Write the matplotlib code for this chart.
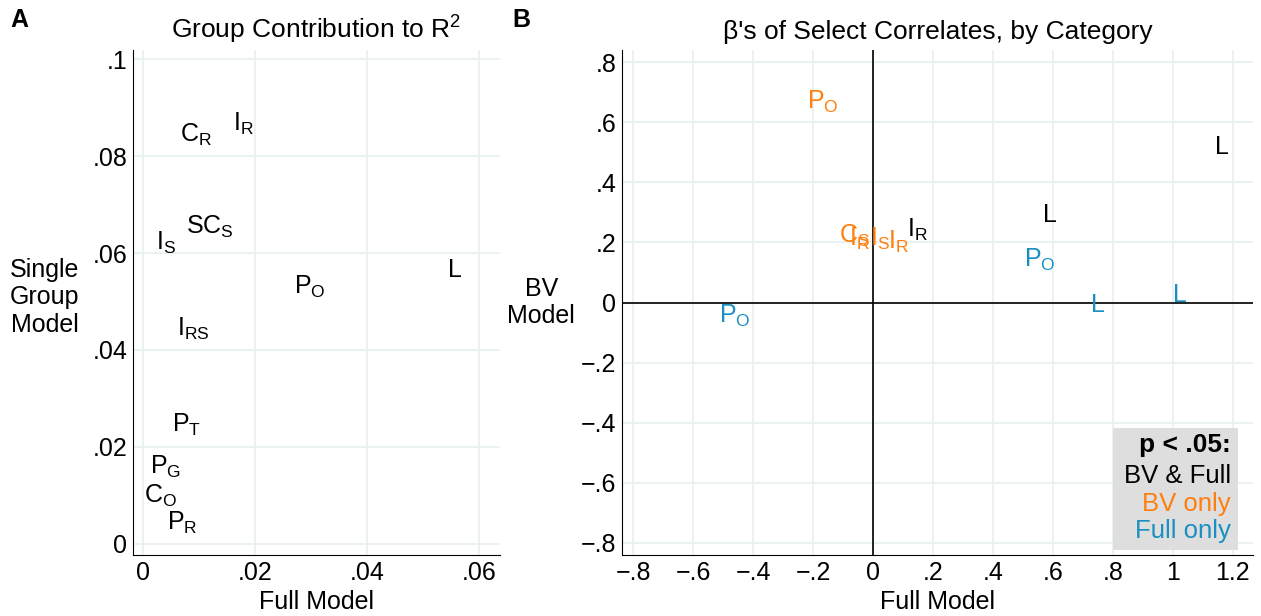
import numpy as np
import matplotlib.pyplot as plt

plt.rcParams['font.family'] = 'Liberation Sans'
plt.rcParams['mathtext.fontset'] = 'custom'
plt.rcParams['mathtext.rm'] = 'Liberation Sans'
plt.rcParams['mathtext.it'] = 'Liberation Sans'
plt.rcParams['font.size'] = 18

# Panel A: contribution to R^2
a_labels = ['C_R', 'I_R', 'SC_S', 'I_S', 'L', 'P_O', 'I_{RS}', 'P_T', 'P_G', 'C_O', 'P_R']
a_full = [0.0095, 0.0179, 0.0120, 0.0041, 0.0557, 0.0298, 0.0089, 0.0077, 0.0041, 0.0032, 0.0070]
a_single = [0.0843, 0.0866, 0.0654, 0.0620, 0.0565, 0.0530, 0.0443, 0.0245, 0.0159, 0.0099, 0.0043]

# Panel B: betas, colour by significance group
b_labels = ['P_O', 'C_S', 'I_R', 'I_S', 'I_R', 'L', 'L', 'I_R', 'P_O', 'L', 'L', 'P_O']
b_full = [-0.167, -0.060, -0.045, 0.025, 0.085, 1.163, 0.590, 0.147, 0.557, 0.750, 1.023, -0.460]
b_bv = [0.666, 0.222, 0.210, 0.210, 0.200, 0.517, 0.290, 0.240, 0.142, -0.007, 0.026, -0.046]
b_group = ['bv', 'bv', 'bv', 'bv', 'bv', 'both', 'both', 'both', 'full', 'full', 'full', 'full']
colors = {'both': 'black', 'bv': '#ff7f0e', 'full': '#1a8fc1'}

grid_c = '#e8f0f1'

fig = plt.figure(figsize=(12.61, 6.16), dpi=100)
axA = fig.add_axes([133/1261, 1-555/616, 367/1261, 505/616])
axB = fig.add_axes([622/1261, 1-555/616, 631/1261, 505/616])

for ax in (axA, axB):
    ax.spines['top'].set_visible(False)
    ax.spines['right'].set_visible(False)
    ax.grid(True, color=grid_c, lw=1.2)
    ax.set_axisbelow(True)
    ax.tick_params(length=0, pad=4)

# A
for lab, x, y in zip(a_labels, a_full, a_single):
    axA.text(x, y, r'$\mathrm{%s}$' % lab, ha='center', va='center', fontsize=18)
axA.set_xlim(-0.0018, 0.0638)
axA.set_ylim(-0.0023, 0.1019)
axA.set_xticks([0, 0.02, 0.04, 0.06])
axA.set_xticklabels(['0', '.02', '.04', '.06'])
axA.set_yticks([0, 0.02, 0.04, 0.06, 0.08, 0.1])
axA.set_yticklabels(['0', '.02', '.04', '.06', '.08', '.1'])
axA.set_xlabel('Full Model')
axA.set_ylabel('Single\nGroup\nModel', rotation=0, ha='center', va='center', labelpad=0)
axA.yaxis.set_label_coords(-0.24, 0.51)
axA.set_title(r'Group Contribution to R$^2$', fontsize=19, pad=8)

# B
axB.axhline(0, color='black', lw=1.2, zorder=1)
axB.axvline(0, color='black', lw=1.2, zorder=1)
for lab, x, y, g in zip(b_labels, b_full, b_bv, b_group):
    axB.text(x, y, r'$\mathrm{%s}$' % lab, ha='center', va='center', fontsize=18, color=colors[g])
axB.set_xlim(-0.837, 1.267)
axB.set_ylim(-0.84, 0.84)
xt = [-0.8, -0.6, -0.4, -0.2, 0, 0.2, 0.4, 0.6, 0.8, 1, 1.2]
axB.set_xticks(xt)
axB.set_xticklabels(['\u2212.8', '\u2212.6', '\u2212.4', '\u2212.2', '0', '.2', '.4', '.6', '.8', '1', '1.2'])
yt = [-0.8, -0.6, -0.4, -0.2, 0, 0.2, 0.4, 0.6, 0.8]
axB.set_yticks(yt)
axB.set_yticklabels(['\u2212.8', '\u2212.6', '\u2212.4', '\u2212.2', '0', '.2', '.4', '.6', '.8'])
axB.set_xlabel('Full Model')
axB.set_ylabel('BV\nModel', rotation=0, ha='center', va='center', labelpad=0)
axB.yaxis.set_label_coords(-0.128, 0.50)
axB.set_title("\u03b2's of Select Correlates, by Category", fontsize=19, pad=8)

# legend box
box = plt.Rectangle((1113/1261, 1-550/616), 125/1261, 122/616, transform=fig.transFigure,
                    facecolor='#dedede', edgecolor='none', zorder=5)
fig.patches.append(box)
lx = 1231/1261
fig.text(lx, 1-445/616, 'p < .05:', ha='right', va='center', fontweight='bold', fontsize=19, zorder=6)
fig.text(lx, 1-476/616, 'BV & Full', ha='right', va='center', fontsize=18.5, zorder=6)
fig.text(lx, 1-504/616, 'BV only', ha='right', va='center', fontsize=18.5, color=colors['bv'], zorder=6)
fig.text(lx, 1-531/616, 'Full only', ha='right', va='center', fontsize=18.5, color=colors['full'], zorder=6)

fig.text(10/1261, 1-20/616, 'A', fontweight='bold', fontsize=18, va='center')
fig.text(512/1261, 1-20/616, 'B', fontweight='bold', fontsize=18, va='center')

fig.savefig('out.png', dpi=100)
